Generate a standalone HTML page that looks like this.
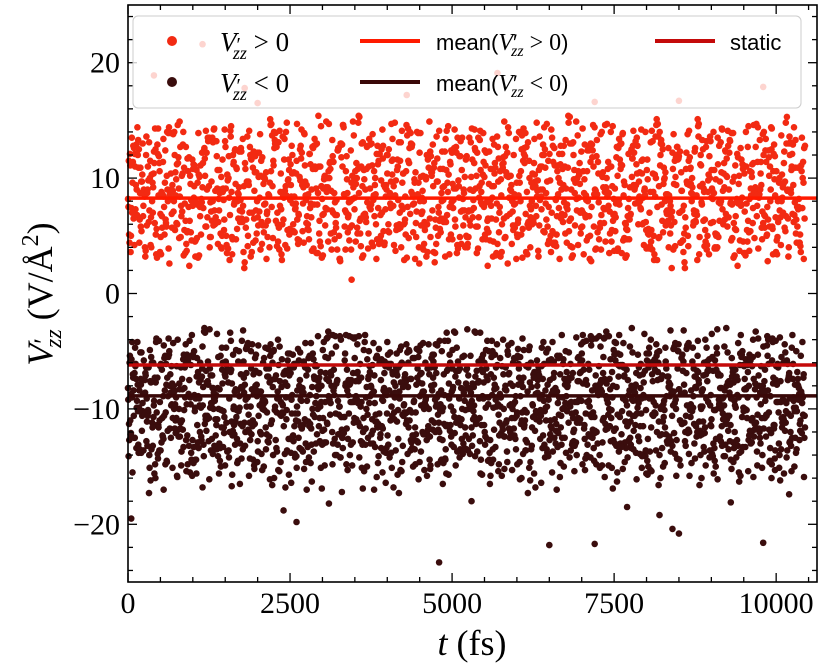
<!DOCTYPE html>
<html><head><meta charset="utf-8"><style>
html,body{margin:0;padding:0;background:#fff;}
svg{display:block;}
text{font-family:"Liberation Serif","DejaVu Serif",serif;}
</style></head><body>
<svg id="chart" width="821" height="667" viewBox="0 0 821 667" xmlns="http://www.w3.org/2000/svg">
<g id="points"></g>
<g id="lines"></g>
<g id="axes"></g>
<g id="legend">
  <rect x="133" y="16" width="668" height="92" rx="5" fill="#fff" fill-opacity="0.8" stroke="#ccc" stroke-width="1"/>
  <g>
    <circle cx="172" cy="41" r="5" fill="#f22a12"/>
    <text x="220" y="51" font-size="27"><tspan font-style="italic">V</tspan><tspan font-size="20">′</tspan><tspan font-style="italic" font-size="18" dy="8" dx="-8">zz</tspan><tspan dy="-8"> &gt; 0</tspan></text>
  </g>
  <g>
    <circle cx="172" cy="82" r="5" fill="#3a0d0d"/>
    <text x="220" y="92" font-size="27"><tspan font-style="italic">V</tspan><tspan font-size="20">′</tspan><tspan font-style="italic" font-size="18" dy="8" dx="-8">zz</tspan><tspan dy="-8"> &lt; 0</tspan></text>
  </g>
  <g>
    <line x1="360" y1="41" x2="420" y2="41" stroke="#ff1a00" stroke-width="4"/>
    <text x="436" y="50" font-size="22" style="font-family:'Liberation Sans',sans-serif">mean(<tspan style="font-family:'Liberation Serif',serif;font-style:italic" font-size="24">V</tspan>′<tspan style="font-family:'Liberation Serif',serif;font-style:italic" font-size="16" dy="6" dx="-6">zz</tspan><tspan dy="-6" style="font-family:'Liberation Serif',serif" font-size="24"> &gt; 0</tspan>)</text>
  </g>
  <g>
    <line x1="360" y1="82" x2="420" y2="82" stroke="#3a0808" stroke-width="4"/>
    <text x="436" y="91" font-size="22" style="font-family:'Liberation Sans',sans-serif">mean(<tspan style="font-family:'Liberation Serif',serif;font-style:italic" font-size="24">V</tspan>′<tspan style="font-family:'Liberation Serif',serif;font-style:italic" font-size="16" dy="6" dx="-6">zz</tspan><tspan dy="-6" style="font-family:'Liberation Serif',serif" font-size="24"> &lt; 0</tspan>)</text>
  </g>
  <g>
    <line x1="655" y1="41" x2="715" y2="41" stroke="#c40a0a" stroke-width="4"/>
    <text x="730" y="50" font-size="22" style="font-family:'Liberation Sans',sans-serif">static</text>
  </g>
</g>
<text x="472" y="655" font-size="36" text-anchor="middle"><tspan font-style="italic">t</tspan> (fs)</text>
<text transform="translate(52,294) rotate(-90)" font-size="36" text-anchor="middle"><tspan font-style="italic">V</tspan><tspan font-size="26">′</tspan><tspan font-style="italic" font-size="24" dy="9" dx="-10">zz</tspan><tspan dy="-9"> (V/Å</tspan><tspan font-size="24" dy="-14">2</tspan><tspan dy="14">)</tspan></text>
</svg>
<script>
const xTicks=[0,2500,5000,7500,10000];
const yTicks=[-20,-10,0,10,20];
const xDomain=[0,10630];
const yDomain=[-25,25];
const meanPos=8.27;
const meanNeg=-8.87;
const staticVal=-6.2;
const posRows=[
"8.2 12.1 5.4 9.8 14.3 6.7 3.9 10.5 7.1 11.8 4.6 9.2 13.5 6.1 8.8 2.9 10.9 7.6 12.7 5.2 9.5 15.1 4.1 8.3 11.2 6.4 13.9 7.8 3.5 10.1 8.9 12.4 5.8 9.6 14.8 6.9 4.4 11.5 7.3 10.3 13.1 5.1 8.6 2.6 9.9 12.9 6.3 10.7 7.4 4.9 11.9 8.1 14.1 5.6 9.3 3.2 12.2 7.7 10.6 6.0 13.4 8.4 4.3 11.1 9.0 15.4 5.9 7.2 12.6 3.8 10.2 8.7 6.6 13.8 4.7 9.4 11.6 7.0 14.6 5.3 8.0 12.0 3.6 10.8 6.8 9.1 13.2 4.0 11.3 7.9 2.4 10.4 8.5 14.4 5.7 12.5 6.2 9.7 11.0 7.5",
"5.1 9.4 13.0 7.2 3.4 11.4 8.6 6.1 14.0 10.2 4.8 12.3 7.9 9.1 5.5 13.6 8.0 2.2 11.7 6.6 10.0 14.7 4.5 8.9 12.8 6.9 9.7 3.7 11.0 7.4 13.3 5.0 10.6 8.2 15.3 6.2 4.1 12.1 9.0 7.6 11.5 3.1 8.4 13.9 6.0 10.9 5.3 9.6 12.6 7.1 4.3 14.2 8.8 6.5 11.3 3.6 10.1 7.8 13.7 5.7 9.3 12.0 4.6 8.1 10.8 6.3 14.9 7.0 3.0 11.9 9.2 5.2 12.7 8.5 6.8 10.4 4.2 13.1 7.5 9.9 5.9 11.6 2.7 8.7 14.5 6.4 10.7 4.9 12.4 7.7 9.5 3.3 11.2 8.3 13.4 5.6 10.0 6.7 12.9 4.4",
"11.1 6.8 9.0 4.2 12.9 7.5 10.4 14.6 5.5 8.1 3.1 11.7 9.7 6.2 13.2 4.9 8.6 10.8 7.0 12.2 5.9 9.3 3.8 14.0 7.8 10.1 6.1 12.6 4.5 8.8 11.4 2.8 9.9 13.7 6.5 7.9 10.6 5.0 12.0 8.4 4.0 14.3 9.6 6.9 11.8 3.5 8.0 10.3 5.8 13.5 7.2 9.1 4.7 12.3 6.4 10.9 8.3 3.0 11.5 7.6 14.8 5.4 9.8 6.7 12.8 4.1 10.0 8.7 13.0 5.3 7.3 11.0 3.9 9.4 12.5 6.0 8.5 14.1 4.8 10.5 7.1 11.9 5.7 9.2 3.4 12.7 8.2 6.3 10.2 13.9 4.6 7.8 11.3 9.0 5.1 12.1 6.6 8.9 14.4 3.6",
"7.4 13.3 4.0 10.3 8.5 12.4 5.7 9.1 6.3 11.6 3.3 14.1 8.0 10.7 5.0 12.0 7.2 9.5 4.4 13.8 6.9 11.1 8.8 3.9 10.5 12.8 5.6 7.7 14.5 9.2 4.7 11.8 6.6 8.3 13.0 5.2 10.0 7.0 12.5 3.7 9.6 11.3 6.1 8.9 14.9 4.3 10.8 7.5 12.2 5.9 9.0 3.5 11.4 8.1 13.6 6.5 10.2 4.9 12.6 7.3 9.8 5.3 14.2 8.6 11.0 3.1 10.6 6.8 12.9 7.9 4.5 9.3 13.4 6.0 11.7 8.4 5.5 10.4 14.0 7.1 3.8 12.3 9.7 6.2 11.2 4.2 8.7 13.1 5.8 10.1 7.6 12.7 4.8 9.4 6.4 11.9 8.0 3.2 10.9 13.5",
"9.6 4.4 12.0 7.0 10.6 5.8 13.8 8.4 3.7 11.2 6.7 9.0 14.2 5.2 10.3 7.7 12.6 4.1 8.9 11.5 6.3 13.3 3.4 9.9 7.3 12.2 5.5 10.8 8.2 14.7 6.1 11.0 4.6 9.5 13.1 7.5 3.0 12.8 8.7 5.9 10.4 6.9 14.0 8.0 4.9 11.7 9.3 5.1 13.5 7.2 10.1 3.9 12.4 6.5 9.7 11.9 4.3 8.5 13.9 6.0 10.7 7.8 5.4 12.1 9.1 3.3 11.3 8.1 14.6 5.7 10.0 6.8 12.9 4.7 9.4 7.4 11.6 2.9 13.0 8.6 6.2 10.5 5.0 12.3 7.9 9.8 4.0 14.3 6.6 11.1 8.3 5.3 12.7 7.1 10.2 3.6 9.2 13.6 6.4 11.4",
"6.5 10.9 8.7 12.3 4.9 9.0 14.0 7.6 5.4 11.1 8.2 13.2 6.0 3.9 10.0 12.5 7.1 9.4 4.6 11.8 8.5 6.3 13.6 5.1 10.4 7.8 12.1 3.5 9.1 11.4 6.8 14.4 8.0 5.7 10.7 7.3 12.8 4.2 9.7 11.0 6.1 8.8 13.9 5.5 10.2 7.5 3.2 12.2 9.3 6.6 11.6 8.3 4.7 13.4 7.0 10.5 5.9 9.6 12.7 6.4 8.1 14.7 4.4 11.2 7.7 9.9 5.2 12.4 8.6 3.8 10.8 6.9 13.0 7.4 9.2 11.5 5.6 8.4 12.9 4.0 10.1 7.2 14.1 6.2 9.5 11.9 5.0 8.9 13.3 7.9 4.5 10.6 6.7 12.0 8.0 3.4 11.3 9.0 5.8 12.6"
];
const negRows=[
"-8.2 -12.5 -5.1 -10.3 -14.8 -6.6 -3.9 -11.0 -7.4 -13.2 -9.1 -4.6 -16.1 -8.8 -6.0 -12.0 -10.7 -3.2 -14.3 -7.9 -9.6 -5.4 -13.7 -11.5 -6.9 -8.4 -15.2 -4.3 -10.0 -12.9 -7.1 -9.3 -5.8 -13.0 -11.2 -3.6 -8.7 -14.1 -6.3 -10.6 -17.3 -7.7 -12.3 -5.0 -9.0 -11.8 -4.1 -15.6 -8.1 -6.5 -13.5 -10.2 -3.4 -12.6 -7.3 -9.8 -14.6 -5.6 -11.3 -8.5 -6.8 -16.4 -4.8 -10.9 -13.1 -7.6 -9.4 -5.2 -12.2 -8.0 -14.9 -3.7 -11.7 -6.2 -10.4 -13.8 -7.0 -9.1 -4.4 -15.0 -8.9 -12.7 -5.9 -10.1 -6.7 -13.3 -11.4 -3.1 -9.7 -14.4 -7.5 -8.3 -12.1 -5.3 -10.8 -16.0 -6.4 -11.9 -4.7 -9.2",
"-11.3 -6.1 -9.5 -14.0 -4.2 -12.4 -8.0 -10.8 -5.7 -15.5 -7.2 -13.1 -9.9 -3.5 -11.6 -6.8 -14.7 -8.6 -5.0 -12.8 -10.1 -7.5 -4.0 -13.9 -9.2 -11.1 -6.4 -16.3 -8.3 -5.5 -12.0 -10.5 -7.8 -3.8 -14.2 -9.0 -11.9 -6.0 -13.4 -8.7 -4.9 -10.3 -12.6 -7.0 -15.8 -5.3 -9.6 -11.4 -3.3 -13.6 -8.2 -10.7 -6.6 -14.5 -7.9 -12.2 -4.5 -9.4 -11.0 -6.2 -16.8 -8.8 -5.8 -13.0 -10.0 -7.3 -12.9 -3.6 -9.8 -14.8 -6.9 -11.5 -8.1 -4.3 -12.5 -10.4 -7.7 -15.3 -5.1 -9.3 -13.7 -6.5 -11.2 -8.4 -4.1 -12.1 -10.9 -7.1 -14.1 -5.6 -9.0 -13.3 -6.3 -11.7 -8.9 -3.9 -15.1 -10.2 -7.4 -12.7",
"-5.4 -9.9 -13.6 -7.6 -11.4 -4.5 -8.6 -15.9 -10.1 -6.2 -12.9 -3.0 -9.5 -14.1 -7.0 -11.1 -5.9 -13.2 -8.3 -10.6 -4.7 -16.6 -9.1 -6.7 -12.4 -8.0 -14.6 -5.2 -10.8 -7.4 -13.0 -3.7 -11.7 -9.4 -6.1 -15.0 -8.5 -12.2 -4.2 -10.3 -7.7 -13.9 -5.6 -9.7 -11.8 -6.4 -14.4 -8.9 -3.4 -12.6 -10.0 -7.2 -15.7 -5.0 -9.2 -11.5 -6.9 -13.5 -8.1 -4.6 -10.9 -12.3 -7.5 -17.0 -5.7 -9.8 -11.2 -6.6 -14.2 -8.4 -3.9 -12.8 -10.5 -7.1 -13.4 -5.3 -9.0 -15.4 -6.0 -11.6 -8.7 -4.4 -12.0 -10.2 -7.8 -14.9 -5.5 -9.6 -11.3 -6.8 -13.8 -8.2 -4.0 -12.5 -10.6 -7.3 -16.2 -5.8 -9.3 -11.0",
"-12.1 -7.9 -10.4 -5.5 -14.3 -8.4 -6.3 -11.8 -9.0 -3.6 -13.4 -10.6 -7.1 -15.6 -5.9 -12.3 -8.9 -4.8 -11.0 -9.7 -6.5 -14.0 -7.6 -10.1 -12.8 -5.1 -9.3 -13.7 -6.8 -11.3 -8.1 -4.0 -15.3 -10.8 -7.3 -12.5 -9.5 -5.7 -13.1 -8.6 -6.0 -11.6 -14.8 -7.8 -10.0 -4.4 -12.7 -9.1 -6.7 -13.9 -8.3 -11.2 -5.3 -16.5 -9.8 -7.0 -12.0 -10.3 -4.9 -14.6 -8.0 -6.1 -11.5 -13.3 -7.4 -9.4 -5.6 -12.6 -10.7 -8.8 -3.8 -15.1 -7.2 -11.1 -9.2 -6.4 -13.6 -10.5 -5.0 -12.2 -8.5 -14.4 -6.9 -9.9 -11.9 -4.7 -13.0 -8.2 -10.9 -7.7 -15.8 -6.2 -12.4 -9.6 -5.4 -11.4 -13.5 -7.5 -10.2 -8.7",
"-9.0 -13.8 -6.9 -11.2 -4.1 -10.3 -15.1 -7.8 -12.7 -5.3 -9.7 -11.9 -8.2 -14.5 -6.2 -10.0 -13.0 -4.6 -8.7 -12.1 -7.2 -16.0 -9.4 -5.8 -11.5 -13.5 -6.6 -10.7 -8.0 -3.3 -14.0 -11.8 -7.5 -9.2 -12.9 -5.0 -10.5 -15.5 -8.4 -6.4 -13.2 -11.0 -7.9 -4.3 -12.4 -9.6 -14.7 -6.0 -10.9 -8.6 -5.4 -13.7 -11.4 -7.0 -9.0 -15.2 -12.2 -4.8 -10.1 -8.1 -6.8 -14.2 -11.7 -5.6 -9.5 -13.1 -7.6 -10.4 -12.5 -3.7 -8.9 -16.9 -6.3 -11.1 -9.3 -13.9 -5.2 -10.6 -7.4 -12.8 -8.5 -14.9 -4.5 -11.3 -9.8 -6.7 -13.4 -10.0 -7.7 -12.0 -5.5 -15.4 -8.3 -10.8 -6.1 -13.6 -11.6 -7.1 -9.9 -4.2",
"-7.0 -10.2 -12.8 -6.0 -9.4 -14.5 -8.3 -11.7 -5.3 -13.3 -7.5 -10.6 -9.1 -15.0 -6.6 -12.2 -8.1 -4.3 -11.3 -13.9 -7.2 -9.8 -5.7 -12.6 -10.4 -8.6 -14.2 -6.2 -11.9 -9.0 -4.6 -13.4 -7.9 -10.9 -12.0 -6.8 -15.9 -8.4 -5.1 -11.1 -9.7 -13.6 -7.3 -10.0 -6.4 -14.8 -8.8 -12.4 -5.9 -9.3 -11.6 -7.7 -13.1 -4.1 -10.5 -8.0 -15.3 -6.5 -12.7 -9.6 -7.1 -11.0 -13.7 -5.4 -8.9 -10.8 -6.9 -14.0 -12.1 -7.8 -9.2 -4.9 -13.0 -11.5 -8.2 -6.1 -15.7 -10.3 -7.4 -12.9 -9.5 -5.6 -11.8 -14.3 -8.5 -6.7 -10.1 -13.2 -7.6 -9.9 -5.0 -12.3 -11.2 -8.0 -14.6 -6.3 -10.7 -9.1 -13.5 -7.3",
"-10.6 -7.4 -13.2 -9.3 -6.1 -11.9 -8.5 -14.9 -5.8 -10.2 -12.7 -7.9 -9.0 -4.7 -13.6 -11.1 -8.2 -15.8 -6.7 -10.0 -12.4 -7.1 -9.7 -5.2 -14.1 -11.4 -8.8 -6.3 -13.0 -10.5 -7.6 -12.1 -9.4 -4.4 -15.4 -8.0 -11.6 -6.9 -13.8 -10.1 -7.3 -12.9 -5.5 -9.6 -11.0 -8.7 -14.4 -6.5 -10.8 -12.3 -7.8 -9.1 -4.9 -13.5 -11.2 -8.4 -6.0 -16.1 -10.3 -7.0 -12.6 -9.8 -5.9 -14.7 -8.1 -11.8 -6.8 -13.1 -10.7 -7.5 -9.5 -4.2 -12.2 -11.3 -8.6 -15.1 -6.4 -10.4 -13.4 -7.7 -9.2 -5.3 -12.0 -11.5 -8.3 -14.2 -6.6 -10.9 -12.8 -7.2 -9.9 -5.6 -13.7 -11.7 -8.9 -6.2 -15.6 -10.6 -7.9 -12.5"
];
const negOutliersT=[50,550,1150,1600,2400,2600,3100,3300,4800,5300,6500,7200,7700,8200,8400,8500,9300,9800,10200];
const negOutliersV=[-19.5,-17.0,-16.8,-16.7,-18.8,-19.8,-18.2,-17.2,-23.3,-18.0,-21.8,-21.7,-18.5,-19.2,-20.4,-20.8,-18.1,-21.6,-17.4];
const posOutliersT=[400,1150,1800,2000,3450,4300,5700,7200,8500,9800];
const posOutliersV=[18.9,21.6,17.8,16.5,1.2,17.2,19.1,16.6,16.7,17.9];

const NS="http://www.w3.org/2000/svg";
const L=128,R=817,T=5,B=582;
const sx=v=>L+(v-xDomain[0])/(xDomain[1]-xDomain[0])*(R-L);
const sy=v=>B-(v-yDomain[0])/(yDomain[1]-yDomain[0])*(B-T);
function mk(tag,attrs,parent){const e=document.createElementNS(NS,tag);for(const k in attrs)e.setAttribute(k,attrs[k]);parent.appendChild(e);return e;}
const gp=document.getElementById('points');
function drawRows(rows,color,name){
  const passes=3;
  rows.forEach((row,ri)=>{
    const base=row.trim().split(/\s+/).map(Number);
    const n=base.length;
    for(let p=0;p<passes;p++){
      let vals=base.slice();
      if(p===1) vals.reverse();
      if(p===2) vals=vals.slice(37).concat(vals.slice(0,37));
      const off=(ri*passes+p)/(rows.length*passes);
      vals.forEach((v,i)=>{
        const t=(i+off)*10450/n;
        const c=mk('circle',{cx:sx(t).toFixed(1),cy:sy(v).toFixed(1),r:3.3,fill:color},gp);
        
        
      });
    }
  });
}
drawRows(posRows,'#f22a12','point-positive');
drawRows(negRows,'#3a0d0d','point-negative');
posOutliersT.forEach((t,i)=>{
  const c=mk('circle',{cx:sx(t),cy:sy(posOutliersV[i]),r:3.3,fill:'#f22a12'},gp);
  
  
});
negOutliersT.forEach((t,i)=>{
  const c=mk('circle',{cx:sx(t),cy:sy(negOutliersV[i]),r:3.3,fill:'#3a0d0d'},gp);
  
  
});
const gl=document.getElementById('lines');
[[meanPos,'#ff1a00','mean-positive-line'],[meanNeg,'#3a0808','mean-negative-line'],[staticVal,'#c40a0a','static-line']].forEach(d=>{
  const l=mk('line',{x1:L,x2:R,y1:sy(d[0]),y2:sy(d[0]),stroke:d[1],'stroke-width':3.5},gl);
  
  
});
const ga=document.getElementById('axes');
const frame=mk('rect',{x:L,y:T,width:R-L,height:B-T,fill:'none',stroke:'#000','stroke-width':1.6},ga);


for(let v=0;v<=xDomain[1];v+=500){
  const x=sx(v),major=v%2500===0,len=major?9:5;
  mk('line',{x1:x,x2:x,y1:B,y2:B-len,stroke:'#000','stroke-width':1.3},ga);
  mk('line',{x1:x,x2:x,y1:T,y2:T+len,stroke:'#000','stroke-width':1.3},ga);
}
for(let v=-24;v<=24;v+=2){
  const y=sy(v),major=v%10===0,len=major?9:5;
  mk('line',{x1:L,x2:L+len,y1:y,y2:y,stroke:'#000','stroke-width':1.3},ga);
  mk('line',{x1:R,x2:R-len,y1:y,y2:y,stroke:'#000','stroke-width':1.3},ga);
}
xTicks.forEach(v=>{
  const t=mk('text',{x:sx(v),y:613,'font-size':30,'text-anchor':'middle'},ga);
  t.textContent=String(v);
  
  
});
yTicks.forEach(v=>{
  const t=mk('text',{x:L-8,y:sy(v)+10,'font-size':30,'text-anchor':'end'},ga);
  t.textContent=v<0?'−'+Math.abs(v):String(v);
  
  
});
</script>
</body></html>
